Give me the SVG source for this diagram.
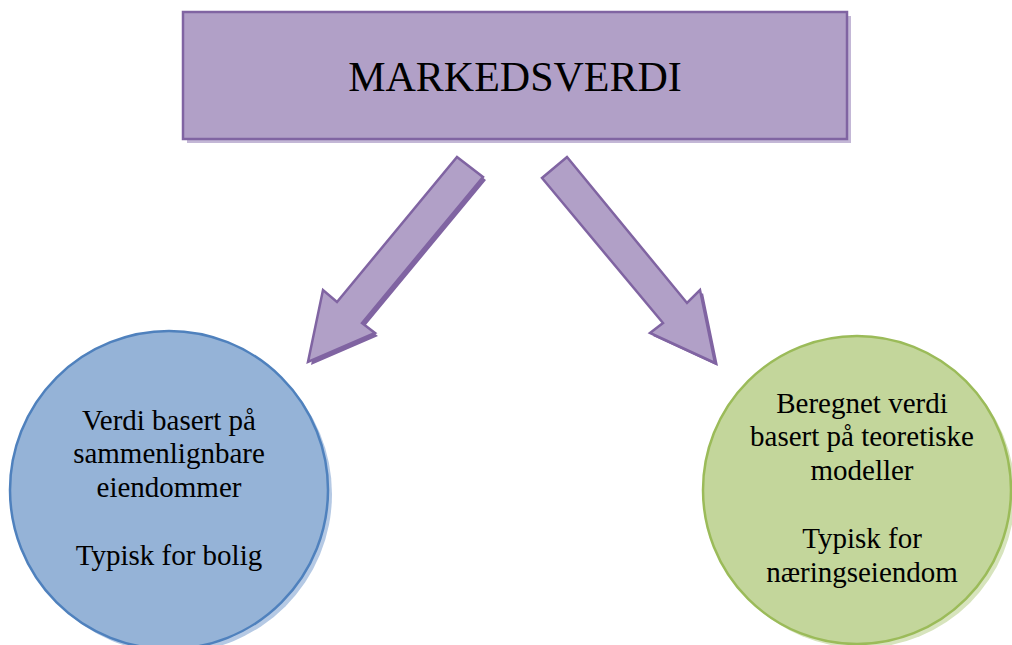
<svg xmlns="http://www.w3.org/2000/svg" width="1012" height="645" viewBox="0 0 1012 645">
<style>
text{font-family:"Liberation Serif","Times New Roman",serif;fill:#000;text-anchor:middle}
.t{font-size:42px}
.c{font-size:29px}
.box{fill:#b1a0c7;stroke:#8064a2;stroke-width:2.5}
.arr{fill:#b1a0c7;stroke:#8064a2;stroke-width:2.5;stroke-linejoin:miter}
.arrsh{fill:#8064a2}
</style>
<rect width="1012" height="645" fill="#fff"/>
<g id="markedsverdi">
<rect x="187" y="16" width="664" height="127" fill="#c3b7d6"/>
<rect class="box" x="183" y="12" width="664" height="127"/>
<text class="t" x="515" y="91">MARKEDSVERDI</text>
</g>
<g id="connectors">
<polygon class="arrsh" points="460,160 486,180 365,326 378,336 311,365 326,293 340,305"/>
<polygon class="arr" points="457,157 483,177 362,323 375,333 308,362 323,290 337,302"/>
<polygon class="arrsh" points="570,160 690,306 703,293 718,366 653,336 666,326 545,181"/>
<polygon class="arr" points="567,157 687,303 700,290 715,363 650,333 663,323 542,178"/>
</g>
<g id="left">
<circle cx="173" cy="494" r="159" fill="#b5c9e4"/>
<circle cx="169" cy="490" r="159" fill="#95b3d7" stroke="#4f81bd" stroke-width="2.5"/>
<text class="c" x="169" y="430">Verdi basert på</text>
<text class="c" x="169" y="463">sammenlignbare</text>
<text class="c" x="169" y="497">eiendommer</text>
<text class="c" x="169" y="565">Typisk for bolig</text>
</g>
<g id="right">
<circle cx="861" cy="494" r="154" fill="#d7e4bd"/>
<circle cx="857" cy="490" r="154" fill="#c3d69b" stroke="#9bbb59" stroke-width="2.5"/>
<text class="c" x="862" y="413">Beregnet verdi</text>
<text class="c" x="862" y="446">basert på teoretiske</text>
<text class="c" x="862" y="480">modeller</text>
<text class="c" x="862" y="548">Typisk for</text>
<text class="c" x="862" y="582">næringseiendom</text>
</g>
</svg>
